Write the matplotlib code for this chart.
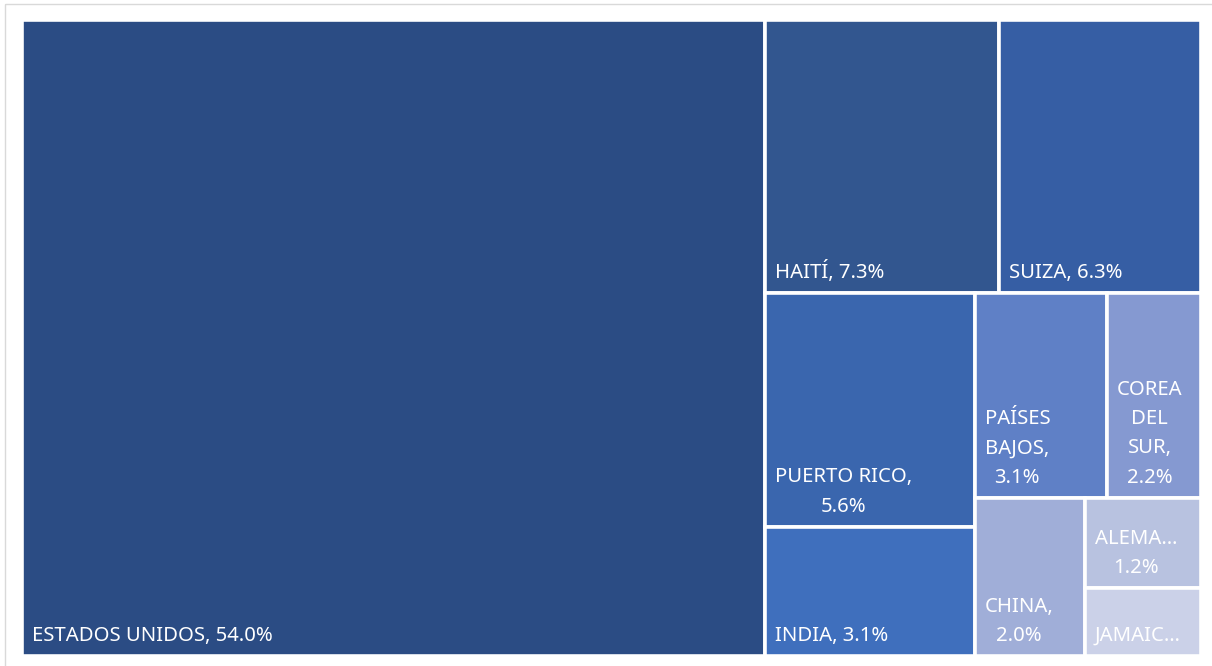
import matplotlib.pyplot as plt
from matplotlib.patches import Rectangle

# Participación por país (%)
paises = ["ESTADOS UNIDOS", "HAITÍ", "SUIZA", "PUERTO RICO", "INDIA",
          "PAÍSES BAJOS", "COREA DEL SUR", "CHINA", "ALEMANIA", "JAMAICA"]
valores = [54.0, 7.3, 6.3, 5.6, 3.1, 3.1, 2.2, 2.0, 1.2, 0.9]
etiquetas = ["ESTADOS UNIDOS, 54.0%", "HAITÍ, 7.3%", "SUIZA, 6.3%",
             "PUERTO RICO,\n5.6%", "INDIA, 3.1%", "PAÍSES\nBAJOS,\n3.1%",
             "COREA\nDEL\nSUR,\n2.2%", "CHINA,\n2.0%", "ALEMA…\n1.2%", "JAMAIC…"]
colores = ["#2B4C84", "#32568F", "#365EA4", "#3A66AE", "#3F6FBD",
           "#5F80C6", "#8599D1", "#A0AED8", "#B8C2E0", "#CBD1E8"]

# grupos de la disposición (franjas sucesivas)
grupos = [[0], [1, 2], [3, 4], [5, 6], [7], [8], [9]]

W, H = 1179.0, 636.0


def disponer(vals, grupos, W, H):
    rects = {}
    x, y, w, h = 0.0, 0.0, W, H
    resto = sum(vals)
    for g in grupos:
        s = sum(vals[i] for i in g)
        if w >= h:
            # columna a la izquierda
            cw = s / resto * w
            yy = y
            for i in g:
                ih = vals[i] / s * h
                rects[i] = (x, yy, cw, ih)
                yy += ih
            x += cw
            w -= cw
        else:
            # fila arriba
            rh = s / resto * h
            xx = x
            for i in g:
                iw = vals[i] / s * w
                rects[i] = (xx, y, iw, rh)
                xx += iw
            y += rh
            h -= rh
        resto -= s
    return rects


rects = disponer(valores, grupos, W, H)

fig = plt.figure(figsize=(12.12, 6.66), dpi=100)
# marco del gráfico
fig.patches.append(Rectangle((5 / 1212, 1 - 4 / 666), 1.0, -1.0, transform=fig.transFigure,
                             fill=False, edgecolor="#D9D9D9", linewidth=1.0, clip_on=False))

ax = fig.add_axes([20.5 / 1212, 1 - 657.5 / 666, 1182 / 1212, 639 / 666])
ax.set_xlim(-1.5, W + 1.5)
ax.set_ylim(H + 1.5, -1.5)
ax.axis("off")

for i, (x, y, w, h) in rects.items():
    ax.add_patch(Rectangle((x, y), w, h, facecolor=colores[i], edgecolor="white", linewidth=2.6))
    ax.text(x + 10, y + h - 15, etiquetas[i], color="white", fontsize=14.6,
            family="Noto Sans", ha="left", va="baseline", multialignment="center",
            linespacing=1.62)

fig.savefig("out.png", dpi=100, facecolor="white")
